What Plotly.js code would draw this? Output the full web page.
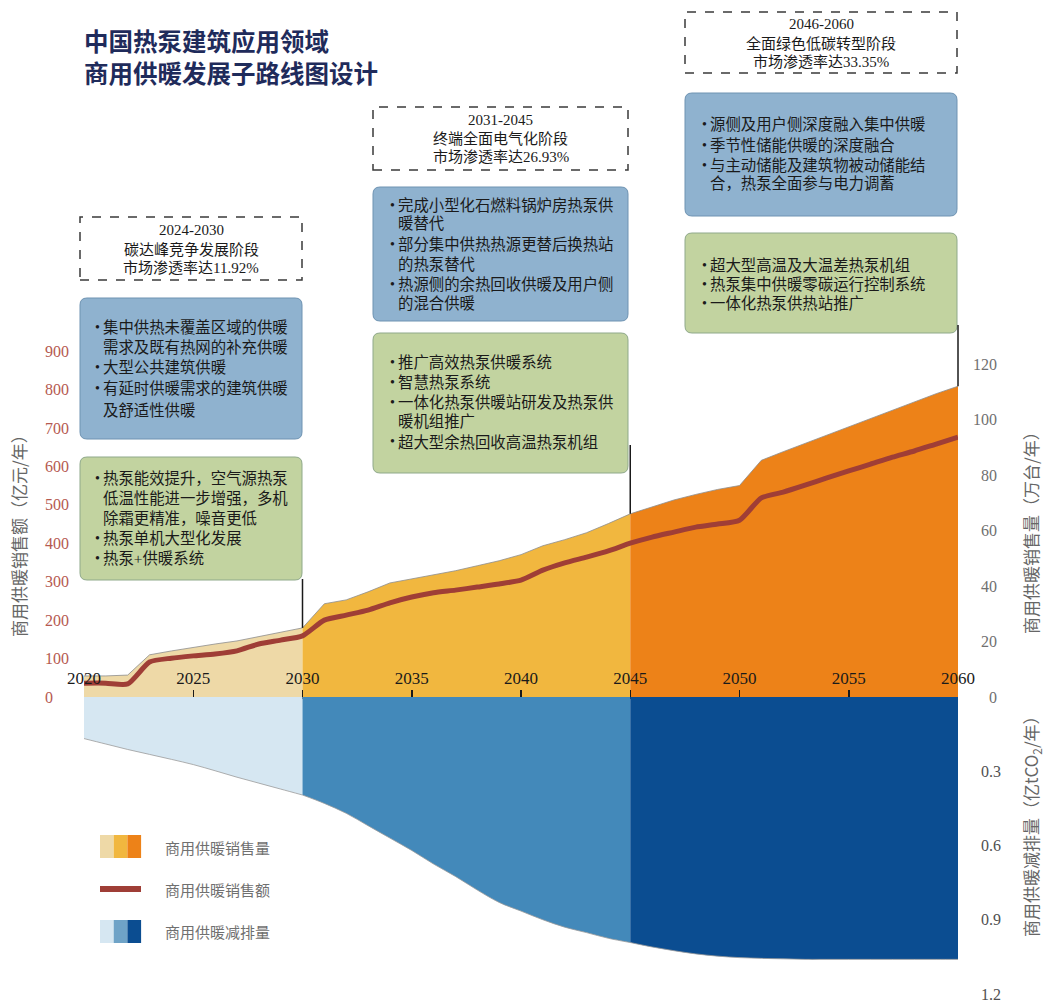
<!DOCTYPE html>
<html>
<head>
<meta charset="utf-8">
<script src="https://cdn.plot.ly/plotly-3.0.1.min.js"></script>
<style>
  html, body { margin: 0; padding: 0; background: #ffffff; }
  #chart { width: 1046px; height: 1003px; }
</style>
</head>
<body>
<div id="chart"></div>
<script>
// ---------------- DATA ----------------
const years = [2020, 2021, 2022, 2023, 2024, 2025, 2026, 2027, 2028, 2029,
               2030, 2031, 2032, 2033, 2034, 2035, 2036, 2037, 2038, 2039,
               2040, 2041, 2042, 2043, 2044, 2045, 2046, 2047, 2048, 2049,
               2050, 2051, 2052, 2053, 2054, 2055, 2056, 2057, 2058, 2059, 2060];

// 商用供暖销售量 (万台/年)
const salesVolume = [7.6, 7.6, 7.9, 15.2, 16.6, 17.9, 19.1, 20.2, 21.8, 23.2,
                     24.9, 33.6, 35.0, 37.9, 41.1, 42.6, 44.0, 45.5, 47.3, 49.1,
                     51.3, 54.5, 56.7, 59.2, 62.5, 66.0, 68.5, 71.0, 73.0, 74.8,
                     76.2, 85.3, 88.4, 91.4, 94.5, 97.5, 100.5, 103.5, 106.4, 109.3, 112.0];

// 商用供暖销售额 (亿元/年)
const salesAmount = [36, 36, 34, 91, 101, 107, 112, 120, 138, 148,
                     159, 200, 213, 226, 245, 260, 271, 278, 286, 294,
                     304, 330, 349, 364, 380, 400, 416, 429, 442, 450,
                     460, 518, 533, 551, 570, 588, 606, 624, 640, 658, 676];

// 商用供暖减排量 (亿tCO2/年)
const reduction = [0.168, 0.19, 0.212, 0.232, 0.252, 0.273, 0.298, 0.324, 0.348, 0.372,
                   0.396, 0.43, 0.47, 0.52, 0.57, 0.62, 0.675, 0.725, 0.78, 0.83,
                   0.865, 0.90, 0.93, 0.952, 0.975, 0.992, 1.01, 1.025, 1.038, 1.047,
                   1.053, 1.056, 1.058, 1.06, 1.06, 1.06, 1.06, 1.06, 1.06, 1.06, 1.06];

const phaseBounds = [[2020, 2030], [2030, 2045], [2045, 2060]];
const amountTicks = [0, 100, 200, 300, 400, 500, 600, 700, 800, 900];
const volumeTicks = [0, 20, 40, 60, 80, 100, 120];
const reductionTicks = [0.3, 0.6, 0.9, 1.2];
const reductionTickText = ['0.3', '0.6', '0.9', '1.2'];

const phaseHeaders = [
  ['2024-2030', '碳达峰竞争发展阶段', '市场渗透率达11.92%'],
  ['2031-2045', '终端全面电气化阶段', '市场渗透率达26.93%'],
  ['2046-2060', '全面绿色低碳转型阶段', '市场渗透率达33.35%']
];
const blueTexts = [
  [['•', '集中供热未覆盖区域的供暖'], ['', '需求及既有热网的补充供暖'], ['•', '大型公共建筑供暖'], ['•', '有延时供暖需求的建筑供暖'], ['', '及舒适性供暖']],
  [['•', '完成小型化石燃料锅炉房热泵供'], ['', '暖替代'], ['•', '部分集中供热热源更替后换热站'], ['', '的热泵替代'], ['•', '热源侧的余热回收供暖及用户侧'], ['', '的混合供暖']],
  [['•', '源侧及用户侧深度融入集中供暖'], ['•', '季节性储能供暖的深度融合'], ['•', '与主动储能及建筑物被动储能结'], ['', '合，热泵全面参与电力调蓄']]
];
const greenTexts = [
  [['•', '热泵能效提升，空气源热泵'], ['', '低温性能进一步增强，多机'], ['', '除霜更精准，噪音更低'], ['•', '热泵单机大型化发展'], ['•', '热泵+供暖系统']],
  [['•', '推广高效热泵供暖系统'], ['•', '智慧热泵系统'], ['•', '一体化热泵供暖站研发及热泵供'], ['', '暖机组推广'], ['•', '超大型余热回收高温热泵机组']],
  [['•', '超大型高温及大温差热泵机组'], ['•', '热泵集中供暖零碳运行控制系统'], ['•', '一体化热泵供热站推广']]
];
const legendLabels = ['商用供暖销售量', '商用供暖销售额', '商用供暖减排量'];
const titleLines = ['中国热泵建筑应用领域', '商用供暖发展子路线图设计'];

// ---------------- STYLE / LAYOUT HELPERS ----------------
const W = 1046, H = 1003;
const X = px => px / W;
const Y = py => 1 - py / H;

const volColors = ['#eed9a7', '#f1b73f', '#ed8218'];
const redColors = ['#d6e7f2', '#4389ba', '#0b4d91'];
const redLegendColors = ['#d6e7f2', '#6fa3c7', '#0b4d91'];
const lineColor = '#9f3e36';

const plotLeft = 84, plotRight = 958, axisPy = 697, upperTop = 300;
const volPxPerUnit = 2.775, amtPxPerUnit = 0.3844, redPxPerUnit = 247.5;
const volMax = (axisPy - upperTop) / volPxPerUnit;
const amtMax = (axisPy - upperTop) / amtPxPerUnit;
const redMax = (H - axisPy) / redPxPerUnit;

const serif = 'Liberation Serif, Noto Sans CJK SC, serif';
const cjk = 'Liberation Serif, Noto Sans CJK SC, sans-serif';

function idx(y) { return years.indexOf(y); }
function sl(arr, a, b) { return arr.slice(idx(a), idx(b) + 1); }

// ---------------- TRACES ----------------
const traces = [];
phaseBounds.forEach((p, i) => {
  traces.push({
    x: sl(years, p[0], p[1]), y: sl(salesVolume, p[0], p[1]),
    xaxis: 'x', yaxis: 'y', type: 'scatter', mode: 'lines',
    fill: 'tozeroy', fillcolor: volColors[i],
    line: { color: '#8d8d8d', width: 0.8 }, hoverinfo: 'skip', showlegend: false
  });
});
phaseBounds.forEach((p, i) => {
  traces.push({
    x: sl(years, p[0], p[1]), y: sl(reduction, p[0], p[1]),
    xaxis: 'x', yaxis: 'y3', type: 'scatter', mode: 'lines',
    fill: 'tozeroy', fillcolor: redColors[i],
    line: { color: '#9a9a9a', width: 0.8, shape: 'spline', smoothing: 1 },
    hoverinfo: 'skip', showlegend: false
  });
});
traces.push({
  x: years, y: salesAmount, xaxis: 'x', yaxis: 'y2', type: 'scatter', mode: 'lines',
  line: { color: lineColor, width: 5, shape: 'spline', smoothing: 0.6 },
  hoverinfo: 'skip', showlegend: false
});

// ---------------- SHAPES & ANNOTATIONS ----------------
const shapes = [];
const annotations = [];

function rrPath(x0, y0, x1, y1, r) {
  return 'M' + X(x0 + r) + ',' + Y(y0) +
    ' L' + X(x1 - r) + ',' + Y(y0) +
    ' Q' + X(x1) + ',' + Y(y0) + ' ' + X(x1) + ',' + Y(y0 + r) +
    ' L' + X(x1) + ',' + Y(y1 - r) +
    ' Q' + X(x1) + ',' + Y(y1) + ' ' + X(x1 - r) + ',' + Y(y1) +
    ' L' + X(x0 + r) + ',' + Y(y1) +
    ' Q' + X(x0) + ',' + Y(y1) + ' ' + X(x0) + ',' + Y(y1 - r) +
    ' L' + X(x0) + ',' + Y(y0 + r) +
    ' Q' + X(x0) + ',' + Y(y0) + ' ' + X(x0 + r) + ',' + Y(y0) + ' Z';
}
function txt(text, px, py, opts) {
  opts = opts || {};
  annotations.push({
    xref: 'paper', yref: 'paper', x: X(px), y: Y(py), text: text, showarrow: false,
    xanchor: opts.xanchor || 'left', yanchor: 'middle', textangle: opts.angle || 0,
    font: { family: opts.family || cjk, size: opts.size || 15, color: opts.color || '#1a1a1a', weight: opts.weight || 'normal' }
  });
}

// Boxes
const headerBoxes = [[80, 217, 302, 280], [373, 107, 628, 170], [685, 12, 957, 73]];
const headerLineY = [[230, 249, 268], [120, 138, 157], [24, 43, 62]];
const blueBoxes = [[80, 298, 302, 439], [373, 187, 628, 321], [685, 93, 957, 216]];
const greenBoxes = [[80, 457, 302, 580], [373, 333, 628, 473], [685, 233, 957, 333]];
const blueLineY = [[327, 347, 367, 388, 410], [205, 224, 245, 264, 284, 303], [125, 145, 165, 184]];
const greenLineY = [[478, 498, 518, 538, 558], [362, 383, 403, 421, 442], [265, 284, 303]];
const bulletX = [93, 388, 700];
const textX = [101, 396, 708];

headerBoxes.forEach((b, i) => {
  shapes.push({
    type: 'rect', xref: 'paper', yref: 'paper', layer: 'above',
    x0: X(b[0]), x1: X(b[2]), y0: Y(b[3]), y1: Y(b[1]),
    fillcolor: '#ffffff', line: { color: '#3a3a3a', width: 1.5, dash: 'dash' }
  });
  const cx = (b[0] + b[2]) / 2;
  phaseHeaders[i].forEach((t, j) => txt(t, cx, headerLineY[i][j], { xanchor: 'center', size: 15, family: serif }));
});
blueBoxes.forEach((b, i) => {
  shapes.push({ type: 'path', xref: 'paper', yref: 'paper', layer: 'above', path: rrPath(b[0], b[1], b[2], b[3], 7),
    fillcolor: '#8fb2cf', line: { color: '#6e93b2', width: 1 } });
  blueTexts[i].forEach((ln, j) => {
    if (ln[0]) txt(ln[0], bulletX[i], blueLineY[i][j], { size: 14 });
    txt(ln[1], textX[i], blueLineY[i][j], { size: 15.4 });
  });
});
greenBoxes.forEach((b, i) => {
  shapes.push({ type: 'path', xref: 'paper', yref: 'paper', layer: 'above', path: rrPath(b[0], b[1], b[2], b[3], 7),
    fillcolor: '#c2d3a0', line: { color: '#8fa98a', width: 1 } });
  greenTexts[i].forEach((ln, j) => {
    if (ln[0]) txt(ln[0], bulletX[i], greenLineY[i][j], { size: 14 });
    txt(ln[1], textX[i], greenLineY[i][j], { size: 15.4 });
  });
});

// Connector lines (phase year -> box), drawn above the boxes
const xPaper = yr => X(plotLeft + (yr - years[0]) / (years[years.length - 1] - years[0]) * (plotRight - plotLeft));
const yVolPaper = v => Y(axisPy - v * volPxPerUnit);
const connectorTops = [579, 445, 325];
[2030, 2045, 2060].forEach((yr, i) => {
  shapes.push({
    type: 'line', xref: 'paper', yref: 'paper', layer: 'above',
    x0: xPaper(yr), x1: xPaper(yr), y0: yVolPaper(salesVolume[idx(yr)]), y1: Y(connectorTops[i]),
    line: { color: '#1a1a1a', width: 1.5 }
  });
});

// Title
txt(titleLines[0], 82, 41, { size: 24.5, color: '#1f2b5b', weight: 'bold', family: 'Noto Sans CJK SC' });
txt(titleLines[1], 82, 72, { size: 24.5, color: '#1f2b5b', weight: 'bold', family: 'Noto Sans CJK SC' });

// Axis titles
txt('商用供暖销售额（亿元/年）', 18, 532, { xanchor: 'center', angle: -90, size: 17, color: '#666666', family: 'Noto Sans CJK SC' });
txt('商用供暖销售量（万台/年）', 1030, 529, { xanchor: 'center', angle: -90, size: 17, color: '#666666', family: 'Noto Sans CJK SC' });
txt('商用供暖减排量（亿tCO<sub>2</sub>/年）', 1031, 822, { xanchor: 'center', angle: -90, size: 17, color: '#666666', family: 'Noto Sans CJK SC' });

// Legend
const swW = 13.7;
volColors.forEach((c, k) => shapes.push({ type: 'rect', xref: 'paper', yref: 'paper', x0: X(100 + k * swW), x1: X(100 + (k + 1) * swW), y0: Y(858), y1: Y(835), fillcolor: c, line: { width: 0 } }));
shapes.push({ type: 'rect', xref: 'paper', yref: 'paper', x0: X(100), x1: X(141), y0: Y(892), y1: Y(886), fillcolor: lineColor, line: { width: 0 } });
redLegendColors.forEach((c, k) => shapes.push({ type: 'rect', xref: 'paper', yref: 'paper', x0: X(100 + k * swW), x1: X(100 + (k + 1) * swW), y0: Y(943), y1: Y(920), fillcolor: c, line: { width: 0 } }));
[847, 889, 931].forEach((py, k) => txt(legendLabels[k], 163, py, { size: 15, color: '#707070', family: 'Noto Sans CJK SC' }));

// ---------------- LAYOUT ----------------
const layout = {
  width: W, height: H,
  margin: { l: 0, r: 0, t: 0, b: 0 },
  paper_bgcolor: '#ffffff', plot_bgcolor: 'rgba(0,0,0,0)',
  showlegend: false,
  xaxis: {
    domain: [X(plotLeft), X(plotRight)], range: [2020, 2060], anchor: 'y',
    tickvals: [2020, 2025, 2030, 2035, 2040, 2045, 2050, 2055, 2060],
    ticks: 'inside', ticklen: 7, tickwidth: 1.5, tickcolor: '#1a1a1a',
    ticklabelposition: 'inside', ticklabeloverflow: 'allow', ticklabelstandoff: 3,
    showline: true, linecolor: '#1a1a1a', linewidth: 1.5,
    showgrid: false, zeroline: false,
    tickfont: { family: serif, size: 17, color: '#1a1a1a' }
  },
  yaxis: {
    domain: [Y(axisPy), Y(upperTop)], range: [0, volMax],
    anchor: 'free', side: 'left', position: X(997),
    tickvals: volumeTicks, ticks: '', showline: false, showgrid: false, zeroline: false,
    ticklabeloverflow: 'allow',
    tickfont: { family: serif, size: 16, color: '#707070' }
  },
  yaxis2: {
    overlaying: 'y', range: [0, amtMax],
    anchor: 'free', side: 'right', position: X(44),
    tickvals: amountTicks, ticks: '', showline: false, showgrid: false, zeroline: false,
    ticklabeloverflow: 'allow',
    tickfont: { family: serif, size: 16, color: '#b55a50' }
  },
  yaxis3: {
    domain: [0, Y(axisPy)], range: [redMax, 0],
    anchor: 'free', side: 'left', position: X(1001),
    tickvals: reductionTicks, ticktext: reductionTickText,
    ticks: '', showline: false, showgrid: false, zeroline: false,
    ticklabeloverflow: 'allow',
    tickfont: { family: serif, size: 16, color: '#505050' }
  },
  shapes: shapes,
  annotations: annotations
};

Plotly.newPlot('chart', traces, layout, { displayModeBar: false, staticPlot: true });
</script>
</body>
</html>
